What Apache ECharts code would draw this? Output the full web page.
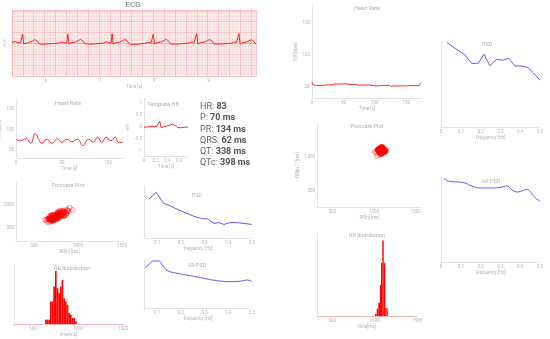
<!DOCTYPE html>
<html><head><meta charset="utf-8">
<script src="https://cdn.jsdelivr.net/npm/echarts@6/dist/echarts.min.js"></script>
<style>html,body{margin:0;padding:0;background:#fff}#c{width:550px;height:339px}</style>
</head><body><div id="c"></div>
<script>
// ---------------- DATA ----------------
const ecgTicks = [6, 7, 8, 9];
const ecgData = [[5.38,0.03],[5.43,0.10],[5.48,0.03],[5.54,0.02],[5.555,0.0],[5.574,0.55],[5.595,-0.06],[5.63,0.02],[5.70,0.05],[5.76,0.12],[5.80,0.21],[5.84,0.12],[5.88,-0.06],[5.95,-0.08],[6.05,-0.05],[6.15,-0.03],[6.23,0.0],[6.28,0.06],[6.33,0.02],[6.39,0.0],
[6.407,0.55],[6.428,-0.06],[6.47,0.02],[6.55,0.06],[6.60,0.15],[6.64,0.22],[6.68,0.13],[6.72,-0.05],[6.80,-0.07],[6.90,-0.05],[7.00,-0.03],[7.06,0.0],[7.11,0.07],[7.16,0.02],[7.205,0.0],
[7.222,0.56],[7.243,-0.07],[7.29,0.02],[7.37,0.06],[7.42,0.15],[7.46,0.21],[7.50,0.12],[7.54,-0.07],[7.62,-0.09],[7.72,-0.06],[7.82,-0.03],[7.86,0.02],[7.89,0.08],[7.94,0.02],[7.965,0.0],
[7.981,0.55],[8.002,-0.06],[8.05,0.02],[8.13,0.07],[8.18,0.16],[8.22,0.22],[8.26,0.12],[8.30,-0.06],[8.38,-0.07],[8.48,-0.05],[8.58,-0.02],[8.64,0.0],[8.69,0.07],[8.73,0.02],[8.76,0.0],
[8.778,0.56],[8.80,-0.06],[8.85,0.02],[8.93,0.06],[8.98,0.15],[9.02,0.21],[9.06,0.12],[9.10,-0.06],[9.18,-0.07],[9.28,-0.05],[9.38,-0.02],[9.42,0.0],[9.47,0.07],[9.51,0.02],[9.54,0.0],
[9.556,0.57],[9.578,-0.06],[9.62,0.02],[9.70,0.06],[9.75,0.15],[9.79,0.20],[9.83,0.08],[9.87,-0.06]];

const hrLeft = [[0,76],[4.7,72],[10.9,77.5],[16,66],[20.7,90],[25.4,72],[27.9,66],[33.3,76],[38.8,66],[44.9,77.5],[49.6,68],[55,76],[60.5,70],[66.7,76],[72.5,60],[78.6,76],[84,69],[88.4,81],[93.1,68],[97.8,81],[102.9,72],[107.6,81],[111.2,68],[116,69]];

const templateHB = [[0,0],[0.05,0.0],[0.10,0.02],[0.17,0.01],[0.22,0.03],[0.245,0.0],[0.27,0.24],[0.29,-0.02],[0.32,0.0],[0.38,0.03],[0.44,0.08],[0.49,0.12],[0.53,0.06],[0.57,-0.02],[0.62,-0.03],[0.70,-0.01],[0.75,0.0]];

const statLabels = ['HR', 'P', 'PR', 'QRS', 'QT', 'QTc'];
const statValues = ['83', '70 ms', '134 ms', '62 ms', '338 ms', '398 ms'];

const rrLeft = [742,770,781,805,789,760,742,705,704,680,700,722,776,825,880,885,870,810,780,736,722,692,703,722,742,795,808,840,790,772,724,722,690,700,696,742,760,820,838,872,826,800,750,745,700,706,668,700,712,778,795,830,780,775,720,722,676,712,706,770,774,820,786,784,722,724,676,708,684,758,772,836,830,842,768,756,700,716,666,702,708,778,792,852,838,832,758,748,684,690,645,690,700,762,772,845,846,850,776,762,702,710,668,712,718,788,806,862,854,850,770,760,700,704,655,660,630,680,692,772,800,880,905,940,890,870];

const psdLFreq = [0.066,0.096,0.127,0.155,0.19,0.226,0.254,0.283,0.314,0.34,0.361,0.382,0.411,0.439,0.467,0.499];
const psdLPow  = [75,88,67,62,54,47.5,42,38,36.5,28,29.5,26,30,29.5,28,26];

const histLStart = [634,652.5,671,689.5,708,726.5,745,763.5,782,800.5,819,837.5,856,874.5,893,911.5,930,948.5,967];
const histLCount = [1.3,1.3,1.3,6.8,6.8,11.3,16,10.8,9.3,11.3,13.3,7.8,6.8,5.8,3.3,2.8,1.8,1.8,0.8];
const histLWidth = 18.5;

const arLFreq = [0.049,0.067,0.084,0.106,0.127,0.148,0.184,0.24,0.297,0.354,0.411,0.453,0.482,0.499];
const arLPow  = [82,89,96,96,84,75.5,71,66,60.6,55.7,53.7,55,57,53.7];

const hrRight = [[0,57],[1,53],[3,52.5],[5.5,51.8],[8,52.3],[10.5,51.6],[13,52.1],[15.5,51.2],[18,51.8],[20.5,52.4],[23,51.7],[25.5,52.6],[28,53.1],[30.5,52.7],[33,53.4],[35.5,53.9],[38,53.3],[40.5,54.1],[43,54.6],[45.5,54.0],[48,54.8],[50.5,54.3],[53,53.6],[55.5,54.2],[58,53.5],[60.5,52.9],[63,53.6],[65.5,53.0],[68,52.4],[70.5,53.1],[73,52.6],[75.5,51.9],[78,52.7],[80.5,52.2],[83,51.6],[85.5,52.3],[88,51.8],[90.5,52.5],[93,51.4],[95.5,51.9],[98,51.3],[100.5,51.0],[103,51.7],[105.5,51.1],[108,52.8],[110.5,51.5],[113,50.9],[115.5,51.6],[118,51.1],[120.5,51.8],[123,51.2],[125.5,50.6],[128,51.3],[130.5,50.8],[133,50.3],[135.5,50.9],[138,50.4],[140.5,50.9],[143,51.5],[145.5,51.0],[148,51.6],[150.5,51.1],[153,50.7],[155.5,51.4],[158,50.8],[160.5,51.3],[163,51.9],[165.5,51.4],[168,52.0],[170.5,51.6],[172,53.5],[173,56]];

const psdRFreq = [0.029,0.071,0.121,0.155,0.188,0.217,0.247,0.281,0.312,0.343,0.374,0.408,0.438,0.466,0.5];
const psdRPow  = [99.6,92.6,84.7,74.9,74.9,85.5,72,79.6,78.7,80.8,71.7,71.7,70.1,63.8,55.1];

const rrRight = [1062,1101,1055,1098,1120,1071,1090,1135,1082,1046,1103,1118,1064,1092,1127,1075,1040,1088,1112,1060,1097,1131,1079,1052,1106,1124,1068,1085,1140,1092,1048,1080,1115,1072,1101,1129,1066,1058,1110,1095,1077,1121,1087,1043,1099,1116,1062,1089,1133,1081,1055,1104,1122,1070,1094,1138,1084,1050,1091,1113,1067,1100,1126,1074,1061,1108,1097,1078,1119,1086,1045,1093,1111,1063,1083,1130,1088,1036,1012,1072,1105,1142,1098,1070,1025,1060,1119];

const arRFreq = [0.012,0.045,0.113,0.155,0.197,0.264,0.307,0.332,0.357,0.382,0.408,0.433,0.449,0.475,0.5];
const arRPow  = [98.1,94.9,93.4,89.4,87.1,87.1,88.2,89.4,85.2,82.4,83.5,85.5,83.2,75.8,71.8];

const histRStart = [1004,1024,1043,1063,1075,1090,1107,1126,1142];
const histREnd   = [1024,1043,1063,1075,1090,1107,1126,1142,1154];
const histRCount = [1.7,6,11,26,44,62.7,44,6.7,6];

// ---------------- BUILD ----------------
const FONT = 'Roboto, "Noto Sans", sans-serif';
const AXC = '#e4e4e4', LBL = '#b4b4b4';
const RED = '#ff2a2a', BLUE = '#5a5aff';

const grids = [], xAxes = [], yAxes = [], series = [];
function addGrid(l, t, w, h, extra) {
  grids.push(Object.assign({left: l, top: t, width: w, height: h, outerBoundsMode: 'none', containLabel: false}, extra || {}));
  return grids.length - 1;
}
function axis(gi, min, max, labels, name, gap, extra) {
  return Object.assign({
    type: 'value', gridIndex: gi, min: min, max: max, scale: true,
    axisLine: {show: true, onZero: false, lineStyle: {color: AXC, width: 1}},
    axisTick: {show: false},
    splitLine: {show: false},
    axisLabel: (labels && labels.length) ? {show: true, customValues: labels, fontSize: 4.5, color: LBL, margin: 2, fontFamily: FONT, formatter: v => String(v)} : {show: false},
    name: name || '', nameLocation: 'middle', nameGap: gap || 8,
    nameTextStyle: {fontSize: 4.5, color: LBL, fontFamily: FONT}
  }, extra || {});
}
function addX(a) { xAxes.push(a); return xAxes.length - 1; }
function addY(a) { yAxes.push(a); return yAxes.length - 1; }
function line(xi, yi, data, color, smooth, w) {
  series.push({type: 'line', xAxisIndex: xi, yAxisIndex: yi, data: data, symbol: 'none', smooth: smooth || false,
    lineStyle: {color: color, width: w || 1}, silent: true, animation: false});
}
function zip(a, b) { return a.map((v, i) => [v, b[i]]); }
function histItem(params, api) {
  const s = api.coord([api.value(0), api.value(2)]);
  const e = api.coord([api.value(1), 0]);
  return {type: 'rect', shape: {x: s[0], y: s[1], width: e[0] - s[0], height: e[1] - s[1]}, style: {fill: '#ff0000'}};
}
function hist(xi, yi, data) {
  series.push({type: 'custom', xAxisIndex: xi, yAxisIndex: yi, data: data, renderItem: histItem, silent: true, animation: false});
}
function scatter(xi, yi, data) {
  series.push({type: 'scatter', xAxisIndex: xi, yAxisIndex: yi, data: data, symbol: 'circle', symbolSize: 5,
    itemStyle: {color: 'rgba(255,0,0,0)', borderColor: 'rgba(255,0,0,0.75)', borderWidth: 0.7}, silent: true, animation: false});
}

// ECG
let g = addGrid(12, 10, 244, 66, {show: true, backgroundColor: '#fdeeee', borderWidth: 0});
let x = addX(axis(g, 5.38, 9.87, ecgTicks, 'Time [s]', 8, {position: 'bottom', axisLine: {show: true, lineStyle: {color: '#eab0b0'}}}));
let y = addY(axis(g, -2, 2, [], 'mV', 5, {position: 'left', axisLine: {show: true, lineStyle: {color: '#eab0b0'}}, nameTextStyle: {fontSize: 5, color: '#c8c8c8'}}));
addX({type: 'value', gridIndex: g, position: 'top', min: 0, max: 4.49, interval: 0.2, axisLine: {show: false}, axisTick: {show: false}, axisLabel: {show: false},
  splitLine: {show: true, lineStyle: {color: '#f3b3b3', width: 0.7}}, minorTick: {show: false, splitNumber: 4}, minorSplitLine: {show: true, lineStyle: {color: '#f8d2d2', width: 0.5}}});
addY({type: 'value', gridIndex: g, position: 'right', min: 0, max: 6.07, interval: 1, axisLine: {show: false}, axisTick: {show: false}, axisLabel: {show: false},
  splitLine: {show: true, lineStyle: {color: '#f3b3b3', width: 0.7}}, minorTick: {show: false, splitNumber: 4}, minorSplitLine: {show: true, lineStyle: {color: '#f8d2d2', width: 0.5}}});
line(x, y, ecgData, '#ff2020', false, 1);

// Heart rate left
g = addGrid(16, 100, 107, 58);
x = addX(axis(g, 0, 116, [0, 50, 100], 'Time [s]', 6));
y = addY(axis(g, 30, 172, [50, 100, 150], 'HR [bpm]', 7));
line(x, y, hrLeft, RED, 0.5, 1);

// Template HB
g = addGrid(144, 98, 44, 58);
x = addX(axis(g, 0, 0.75, [0, 0.2, 0.4, 0.6], 'Time [s]', 5));
y = addY(axis(g, -1.2, 1.2, [-1, -0.5, 0, 0.5, 1], 'mV', 7));
line(x, y, templateHB, RED, false, 1);

// Poincare left
g = addGrid(16, 182, 107, 59);
x = addX(axis(g, 300, 1510, [500, 1000, 1500], 'RR[n] [ms]', 8));
y = addY(axis(g, 227, 1494, [500, 1000], 'RR[n+1] [ms]', 7));
scatter(x, y, rrLeft.slice(0, -1).map((v, i) => [v, rrLeft[i + 1]]));

// PSD left
g = addGrid(144, 186, 108, 52);
x = addX(axis(g, 0.045, 0.5, [0.1, 0.2, 0.3, 0.4, 0.5], 'frequency [Hz]', 7));
y = addY(axis(g, 0, 100, []));
line(x, y, zip(psdLFreq, psdLPow), BLUE, false, 1);

// RR distribution left
g = addGrid(14, 265, 109, 59);
x = addX(axis(g, 290, 1500, [500, 1000, 1500], 'time[ms]', 8, {axisLine: {show: true, lineStyle: {color: '#f6b4b4', width: 1}}}));
y = addY(axis(g, 0, 17.8, []));
hist(x, y, histLStart.map((s, i) => [s, s + histLWidth, histLCount[i]]));

// AR PSD left
g = addGrid(144, 259, 108, 49);
x = addX(axis(g, 0.045, 0.5, [0.1, 0.2, 0.3, 0.4, 0.5], 'frequency [Hz]', 7));
y = addY(axis(g, 0, 100, []));
line(x, y, zip(arLFreq, arLPow), BLUE, true, 1);

// Heart rate right
g = addGrid(312, 5, 110, 93);
x = addX(axis(g, 0, 175, [0, 50, 100, 150], 'Time [s]', 7));
y = addY(axis(g, 32, 178, [50, 100, 150], 'HR [bpm]', 6));
line(x, y, hrRight, RED, false, 1);

// PSD right
g = addGrid(441, 42, 99, 85);
x = addX(axis(g, 0, 0.5, [0, 0.1, 0.2, 0.3, 0.4, 0.5], 'Frequency [Hz]', 6));
y = addY(axis(g, 0, 100, []));
line(x, y, zip(psdRFreq, psdRPow), BLUE, false, 1);

// Poincare right
g = addGrid(317, 123, 105, 84);
x = addX(axis(g, 317, 1575, [500, 1000, 1500], 'RR[n] [ms]', 7));
y = addY(axis(g, 271, 1487, [500, 1000], 'RR[n+1] [ms]', 6, {}));
yAxes[y].axisLabel.formatter = v => v >= 1000 ? Math.floor(v / 1000) + ',' + String(v % 1000).padStart(3, '0') : String(v);
scatter(x, y, rrRight.slice(0, -1).map((v, i) => [v, rrRight[i + 1]]));

// AR PSD right
g = addGrid(441, 177, 99, 85);
x = addX(axis(g, 0, 0.5, [0, 0.1, 0.2, 0.3, 0.4, 0.5], 'Frequency [Hz]', 6));
y = addY(axis(g, 0, 100, []));
line(x, y, zip(arRFreq, arRPow), BLUE, true, 1);

// RR distribution right
g = addGrid(317, 233, 100, 83);
x = addX(axis(g, 319, 1500, [500, 1000, 1500], 'time[ms]', 7, {axisLine: {show: true, lineStyle: {color: '#f6b4b4', width: 1}}}));
y = addY(axis(g, 0, 69, []));
hist(x, y, histRStart.map((s, i) => [s, histREnd[i], histRCount[i]]));

// titles & text
function T(text, cx, cy, size, color, weight) {
  return {type: 'text', x: cx, y: cy, silent: true,
    style: {text: text, fontSize: size, fontFamily: FONT, fill: color, fontWeight: weight || 'normal',
      textAlign: 'center', textVerticalAlign: 'middle', align: 'center', verticalAlign: 'middle'}};
}
const graphics = [
  T('ECG', 133, 5, 8, '#777'),
  T('Heart Rate', 68, 104, 5.5, '#b0b0b0'),
  T('Template HB', 163, 105, 5.5, '#b0b0b0'),
  T('Poincaré Plot', 68, 186, 5.5, '#b0b0b0'),
  T('PSD', 197, 196, 5.5, '#b0b0b0'),
  T('RR distribution', 72, 269, 5.5, '#b0b0b0'),
  T('AR PSD', 197, 266, 5.5, '#b0b0b0'),
  T('Heart Rate', 367, 9, 5.5, '#b0b0b0'),
  T('PSD', 487, 45, 5.5, '#b0b0b0'),
  T('Poincaré Plot', 367, 127, 5.5, '#b0b0b0'),
  T('AR PSD', 491, 182, 5.5, '#b0b0b0'),
  T('RR distribution', 367, 236, 5.5, '#b0b0b0')
];
statLabels.forEach((lab, i) => {
  graphics.push({type: 'text', x: 200, y: 107 + i * 11.2, silent: true,
    style: {text: '{a|' + lab + ': }{b|' + statValues[i] + '}', verticalAlign: 'middle', textVerticalAlign: 'middle',
      rich: {a: {fontSize: 9, fontFamily: FONT, fill: '#666', color: '#666'},
             b: {fontSize: 9, fontFamily: FONT, fill: '#555', color: '#555', fontWeight: 'bold'}}}});
});

const chart = echarts.init(document.getElementById('c'), null, {renderer: 'canvas'});
chart.setOption({
  animation: false,
  backgroundColor: '#ffffff',
  grid: grids, xAxis: xAxes, yAxis: yAxes, series: series, graphic: graphics
});
</script></body></html>
